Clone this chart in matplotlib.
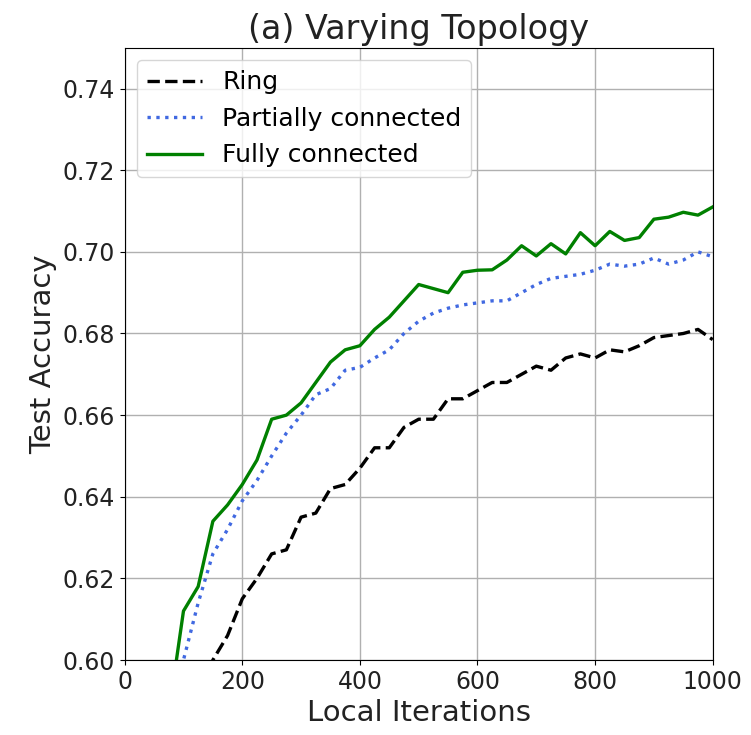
import numpy as np
import matplotlib
matplotlib.use("Agg")
import matplotlib.pyplot as plt

# iterations sampled every 25 steps
iters = np.arange(25, 1001, 25)

# Ring topology
ring = [0.50, 0.54, 0.565, 0.58, 0.59, 0.600, 0.606, 0.615, 0.620, 0.626,
        0.627, 0.635, 0.636, 0.642, 0.643, 0.647, 0.652, 0.652, 0.657, 0.659,
        0.659, 0.664, 0.664, 0.666, 0.668, 0.668, 0.670, 0.672, 0.671, 0.674,
        0.675, 0.674, 0.676, 0.6755, 0.677, 0.679, 0.6795, 0.680, 0.681, 0.6785]

# Partially connected
partial = [0.52, 0.56, 0.585, 0.600, 0.614, 0.626, 0.632, 0.639, 0.644, 0.650,
           0.6556, 0.660, 0.665, 0.6665, 0.671, 0.6717, 0.674, 0.676, 0.680, 0.683,
           0.685, 0.6862, 0.687, 0.6875, 0.688, 0.688, 0.690, 0.692, 0.6935, 0.694,
           0.6945, 0.6955, 0.697, 0.6965, 0.697, 0.6985, 0.697, 0.698, 0.700, 0.6988]

# Fully connected
full = [0.53, 0.565, 0.587, 0.612, 0.618, 0.634, 0.638, 0.643, 0.649, 0.659,
        0.660, 0.663, 0.668, 0.673, 0.676, 0.677, 0.681, 0.684, 0.688, 0.692,
        0.691, 0.690, 0.695, 0.6955, 0.6956, 0.698, 0.7015, 0.699, 0.702, 0.6995,
        0.7047, 0.7015, 0.705, 0.7028, 0.7035, 0.708, 0.7085, 0.7097, 0.709, 0.711]

fig = plt.figure(figsize=(7.51, 7.35), dpi=100)
ax = fig.add_axes([0.166, 0.102, 0.783, 0.833])

ax.plot(iters, ring, color="black", linestyle="--", linewidth=2.4, label="Ring")
ax.plot(iters, partial, color="royalblue", linestyle=":", linewidth=2.4,
        label="Partially connected")
ax.plot(iters, full, color="green", linestyle="-", linewidth=2.4,
        label="Fully connected")

ax.set_xlim(0, 1000)
ax.set_ylim(0.60, 0.75)
ax.set_xticks(np.arange(0, 1001, 200))
ax.set_yticks(np.arange(0.60, 0.741, 0.02))
ax.yaxis.set_major_formatter(matplotlib.ticker.FormatStrFormatter("%.2f"))
ax.tick_params(labelsize=17, labelcolor="#222222")
ax.grid(True, color="#b0b0b0", linewidth=1)

ax.set_xlabel("Local Iterations", fontsize=21, color="#222222")
ax.set_ylabel("Test Accuracy", fontsize=21, color="#222222")
ax.set_title("(a) Varying Topology", fontsize=24, color="#222222")
ax.legend(loc="upper left", fontsize=18, handlelength=2.2)

fig.savefig("out.png", dpi=100)
